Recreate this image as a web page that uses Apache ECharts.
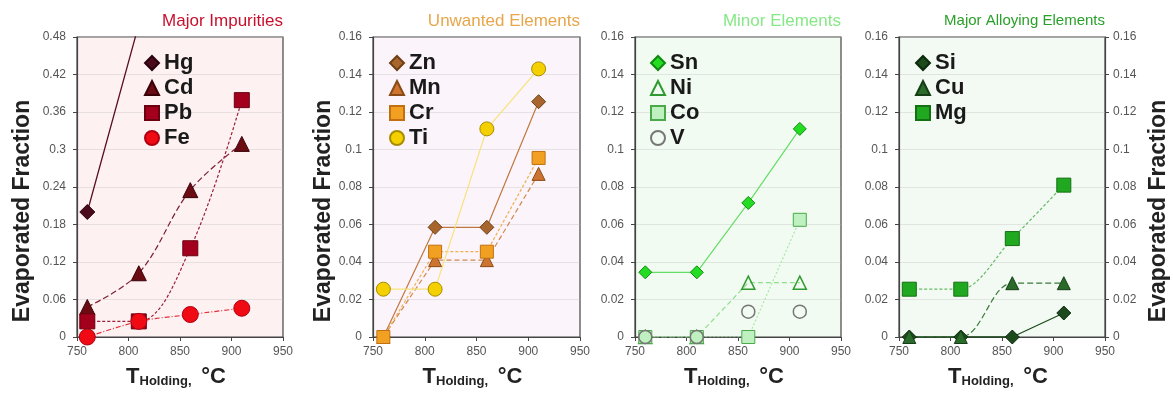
<!DOCTYPE html>
<html>
<head>
<meta charset="utf-8">
<script src="https://cdn.jsdelivr.net/npm/echarts@6/dist/echarts.min.js"></script>
<style>html,body{margin:0;padding:0;background:#fff;}#c{width:1173px;height:398px;}</style>
</head>
<body>
<div id="c"></div>
<script>
// ---- data ----
const temps = [760, 810, 860, 910];
const xMin = 750, xMax = 950, xStep = 50;
const yMax1 = 0.48, yStep1 = 0.06;
const yMax = 0.16, yStep = 0.02;
const panelTitles = ['Major Impurities', 'Unwanted Elements', 'Minor Elements', 'Major Alloying Elements'];

const hg = [0.2, 0.5, 1.0, 1.0];
const cd = [0.048, 0.102, 0.235, 0.309];
const pb = [0.025, 0.025, 0.142, 0.379];
const fe = [0, 0.025, 0.036, 0.046];

const zn = [0, 0.0585, 0.0585, 0.1255];
const mn = [0, 0.041, 0.041, 0.087];
const cr = [0, 0.0455, 0.0455, 0.0955];
const ti = [0.0255, 0.0255, 0.111, 0.143];

const sn = [0.0345, 0.0345, 0.0715, 0.111];
const ni = [0, 0, 0.029, 0.029];
const co = [0, 0, 0, 0.0625];
const vv = [0, 0, 0.0135, 0.0135];

const si = [0, 0, 0, 0.0128];
const cu = [0, 0, 0.0287, 0.0287];
const mg = [0.0255, 0.0255, 0.0525, 0.081];

// ---- build ----
const pts = arr => temps.map((t, i) => [t, arr[i]]);
const grids = [
  {left: 77, top: 37, width: 206, height: 300, bg: '#fdf1f2'},
  {left: 373, top: 37, width: 207, height: 300, bg: '#fbf4fa'},
  {left: 635, top: 37, width: 206, height: 300, bg: '#f1fbf1'},
  {left: 899, top: 37, width: 206, height: 300, bg: '#f3faf3'}
];
const titleColors = ['#c8102e', '#e8a64a', '#86e886', '#2aa02a'];
const FF = 'Liberation Sans, Arial, sans-serif';

const labelStyle = {color: '#555', fontSize: 12, fontFamily: FF};
const axisLineStyle = {color: '#444', width: 1.2};
const nameRich = {
  t: {fontSize: 22, fontWeight: 'bold', color: '#222', fontFamily: FF},
  s: {fontSize: 13, fontWeight: 'bold', color: '#222', fontFamily: FF, padding: [10, 0, 0, 0]},
  c: {fontSize: 22, fontWeight: 'bold', color: '#222', fontFamily: FF}
};

const xAxes = grids.map((g, i) => ({
  type: 'value', gridIndex: i, min: xMin, max: xMax, interval: xStep,
  axisLine: {show: true, lineStyle: axisLineStyle},
  axisTick: {show: true, length: 4, lineStyle: {color: '#444'}},
  axisLabel: Object.assign({margin: 9}, labelStyle),
  splitLine: {show: false},
  name: '{t|T}{s|Holding, }{c| °C}', nameLocation: 'middle', nameGap: 28,
  nameTextStyle: {rich: nameRich, padding: [0, 8, 0, 0]}
}));

const yName = {fontSize: 23, fontWeight: 'bold', color: '#222', fontFamily: FF, padding: [0, 48, 0, 0]};
function yAx(i, opts) {
  const max = i === 0 ? yMax1 : yMax;
  const step = i === 0 ? yStep1 : yStep;
  return Object.assign({
    type: 'value', gridIndex: i, min: 0, max: max, interval: step,
    axisLine: {show: true, lineStyle: axisLineStyle},
    axisTick: {show: true, length: 4, lineStyle: {color: '#444'}},
    axisLabel: Object.assign({margin: 11}, labelStyle),
    splitLine: {show: true, lineStyle: {color: 'rgba(190,190,190,0.35)', width: 1}}
  }, opts);
}
const yAxes = [
  yAx(0, {name: 'Evaporated Fraction', nameLocation: 'middle', nameGap: 43, nameRotate: 90, nameTextStyle: yName}),
  yAx(1, {name: 'Evaporated Fraction', nameLocation: 'middle', nameGap: 38, nameRotate: 90, nameTextStyle: yName}),
  yAx(2, {}),
  yAx(3, {}),
  yAx(3, {position: 'right', splitLine: {show: false}, axisLabel: Object.assign({margin: 8}, labelStyle),
    name: 'Evaporated Fraction', nameLocation: 'middle', nameGap: 42, nameRotate: 90, nameTextStyle: yName})
];

function ser(name, data, gi, o) {
  return {
    name: name, type: 'line', xAxisIndex: gi, yAxisIndex: gi,
    data: pts(data), symbol: o.symbol, symbolSize: o.size || 13,
    smooth: o.smooth || false,
    itemStyle: {color: o.fill, borderColor: o.border, borderWidth: o.bw || 1},
    lineStyle: {color: o.line, width: o.lw === undefined ? 1.2 : o.lw, type: o.dash || 'solid', opacity: o.lop === undefined ? 1 : o.lop},
    emphasis: {disabled: true}, animation: false, clip: true
  };
}

const series = [
  ser('Hg', hg, 0, {symbol: 'diamond', size: 15, fill: '#4a0a1c', border: '#2a0010', line: '#5a1020', lw: 1.3}),
  ser('Cd', cd, 0, {symbol: 'triangle', size: 15, fill: '#6a0c12', border: '#3a0008', line: '#7a2030', dash: [6, 3], smooth: 0.35}),
  ser('Pb', pb, 0, {symbol: 'rect', size: 15, fill: '#a3001e', border: '#6a0010', line: '#9a2038', dash: [3, 2], smooth: 0.35}),
  ser('Fe', fe, 0, {symbol: 'circle', size: 16, fill: '#f00a14', border: '#b00010', line: '#e0303a', dash: [5, 2, 1, 2], smooth: 0.3}),

  ser('Zn', zn, 1, {symbol: 'diamond', size: 14, fill: '#a8662e', border: '#6e4016', line: '#c07840', lw: 1.2}),
  ser('Mn', mn, 1, {symbol: 'triangle', size: 13, fill: '#cc7430', border: '#8a4a18', line: '#d08850', dash: [5, 3]}),
  ser('Cr', cr, 1, {symbol: 'rect', size: 13, fill: '#f2a022', border: '#c07010', line: '#f0b050', dash: [3, 2]}),
  ser('Ti', ti, 1, {symbol: 'circle', size: 14, fill: '#f5d000', border: '#a88c00', line: '#f8e27a', lw: 1.2}),

  ser('Sn', sn, 2, {symbol: 'diamond', size: 13, fill: '#22dd22', border: '#118811', line: '#66dd66', lw: 1.2}),
  ser('Ni', ni, 2, {symbol: 'triangle', size: 13, fill: 'rgba(0,0,0,0)', border: '#2f9a2f', bw: 1.5, line: '#8ee08e', dash: [5, 3]}),
  ser('Co', co, 2, {symbol: 'rect', size: 13, fill: '#bff0bf', border: '#4aaa4a', line: '#a8e8a8', dash: [2, 2]}),
  ser('V', vv, 2, {symbol: 'circle', size: 13, fill: 'rgba(0,0,0,0)', border: '#777', bw: 1.5, line: '#555', dash: [3, 3], lw: 1, lop: 0}),

  ser('Si', si, 3, {symbol: 'diamond', size: 14, fill: '#1c4a1c', border: '#0c2a0c', line: '#1c4a1c', lw: 1.3}),
  ser('Cu', cu, 3, {symbol: 'triangle', size: 13, fill: '#2a6a2a', border: '#163e16', line: '#3a7a3a', dash: [6, 3], smooth: 0.35}),
  ser('Mg', mg, 3, {symbol: 'rect', size: 14, fill: '#20a820', border: '#137013', line: '#66bb66', dash: [3, 2], smooth: 0.3})
];

const legendText = {fontSize: 22, fontWeight: 'bold', color: '#1a1a1a', fontFamily: FF, lineHeight: 22};
const legendGroups = [['Hg', 'Cd', 'Pb', 'Fe'], ['Zn', 'Mn', 'Cr', 'Ti'], ['Sn', 'Ni', 'Co', 'V'], ['Si', 'Cu', 'Mg']];
const legendLefts = [139, 384, 645, 910];
const legends = legendGroups.map((names, gi) => ({
  orient: 'vertical', left: legendLefts[gi], top: 47, itemGap: 3,
  itemWidth: 14, itemHeight: 14, selectedMode: false,
  textStyle: legendText,
  data: names.map(n => ({name: n, icon: series.find(s => s.name === n).symbol}))
}));

const titles = panelTitles.map((t, i) => ({
  text: t, right: 1173 - (grids[i].left + grids[i].width), top: 13, padding: 0,
  textStyle: {fontSize: i === 3 ? 15 : 17, fontWeight: 'normal', color: titleColors[i], fontFamily: FF}
}));

const chart = echarts.init(document.getElementById('c'), null, {renderer: 'canvas'});
chart.setOption({
  backgroundColor: '#fff',
  animation: false,
  title: titles,
  legend: legends,
  grid: grids.map(g => ({left: g.left, top: g.top, width: g.width, height: g.height, show: true,
    backgroundColor: g.bg, borderColor: '#444', borderWidth: 1.2, containLabel: false})),
  xAxis: xAxes,
  yAxis: yAxes,
  series: series
});
</script>
</body>
</html>
